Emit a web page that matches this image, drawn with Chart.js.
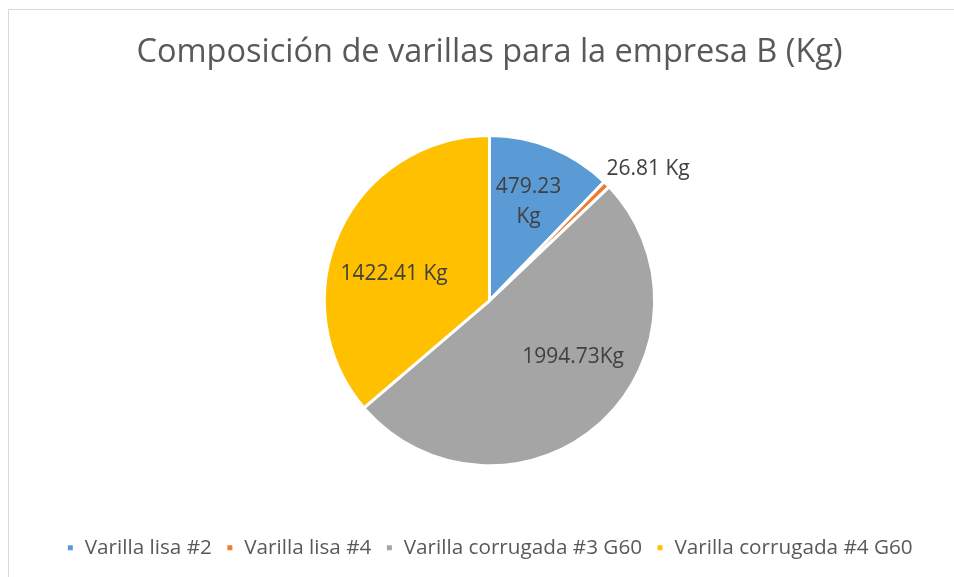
<!DOCTYPE html>
<html lang="es">
<head>
  <meta charset="UTF-8" />
  <title>Composición de varillas para la empresa B (Kg)</title>
  <script src="https://cdn.jsdelivr.net/npm/chart.js"></script>
  <style>
    html, body { margin: 0; padding: 0; background: #fff; }
    #wrap { position: relative; width: 954px; height: 577px; overflow: hidden; }
    /* borde gris del area del grafico */
    #frame {
      position: absolute; left: 8px; top: 9px; width: 960px; height: 600px;
      border-left: 1px solid #d9d9d9; border-top: 1px solid #d9d9d9;
    }
    #pieChart { position: absolute; left: 0; top: 0; }
  </style>
</head>
<body>
<div id="wrap">
  <div id="frame"></div>
  <canvas id="pieChart" width="954" height="577"></canvas>
</div>

<script>
  const categories = ['Varilla lisa #2', 'Varilla lisa #4', 'Varilla corrugada #3 G60', 'Varilla corrugada #4 G60'];
  const pesos = [479.23, 26.81, 1994.73, 1422.41];
  const etiquetas = [['479.23', 'Kg'], ['26.81 Kg'], ['1994.73Kg'], ['1422.41 Kg']];
  const colores = ['#5B9BD5', '#ED7D31', '#A5A5A5', '#FFC000'];

  // posicion de cada etiqueta: fraccion del radio y giro en grados
  const labelPlace = [
    { r: 0.645, da: -0.5 },
    { r: 1.25, da: 5 },
    { r: 0.61, da: -14 },
    { r: 0.60, da: -9 }
  ];

  const labelsPlugin = {
    id: 'pieLabels',
    afterDatasetsDraw(chart) {
      const c = chart.ctx;
      const arcs = chart.getDatasetMeta(0).data;
      c.save();
      c.font = '21px "Open Sans"';
      c.fillStyle = '#404040';
      c.textAlign = 'center';
      c.textBaseline = 'middle';
      arcs.forEach((arc, i) => {
        const p = arc.getProps(['x', 'y', 'startAngle', 'endAngle', 'outerRadius'], true);
        const a = (p.startAngle + p.endAngle) / 2 + labelPlace[i].da * Math.PI / 180;
        const rr = p.outerRadius * labelPlace[i].r;
        const x = p.x + Math.cos(a) * rr;
        const y = p.y + Math.sin(a) * rr;
        const lines = etiquetas[i];
        const lh = 30;
        lines.forEach((t, k) => {
          c.fillText(t, x, y + (k - (lines.length - 1) / 2) * lh);
        });
      });
      c.restore();
    }
  };

  new Chart(document.getElementById('pieChart'), {
    type: 'pie',
    data: {
      labels: categories,
      datasets: [{
        data: pesos,
        backgroundColor: colores,
        borderColor: '#ffffff',
        borderWidth: 3
      }]
    },
    options: {
      responsive: false,
      animation: false,
      layout: { padding: { left: 25, right: 0, top: 0, bottom: 9 } },
      plugins: {
        title: {
          display: true,
          text: 'Composición de varillas para la empresa B (Kg)',
          color: '#595959',
          font: { family: '"Open Sans"', size: 32.5, weight: 'normal' },
          padding: { top: 33, bottom: 62 }
        },
        legend: {
          position: 'bottom',
          title: {
            display: true,
            text: ' ',
            font: { size: 10 },
            padding: { top: 44, bottom: 0 }
          },
          labels: {
            color: '#595959',
            font: { family: '"Open Sans"', size: 20.7 },
            boxWidth: 8,
            boxHeight: 8,
            padding: 14
          }
        },
        tooltip: { enabled: false }
      }
    },
    plugins: [labelsPlugin]
  });
</script>
</body>
</html>
